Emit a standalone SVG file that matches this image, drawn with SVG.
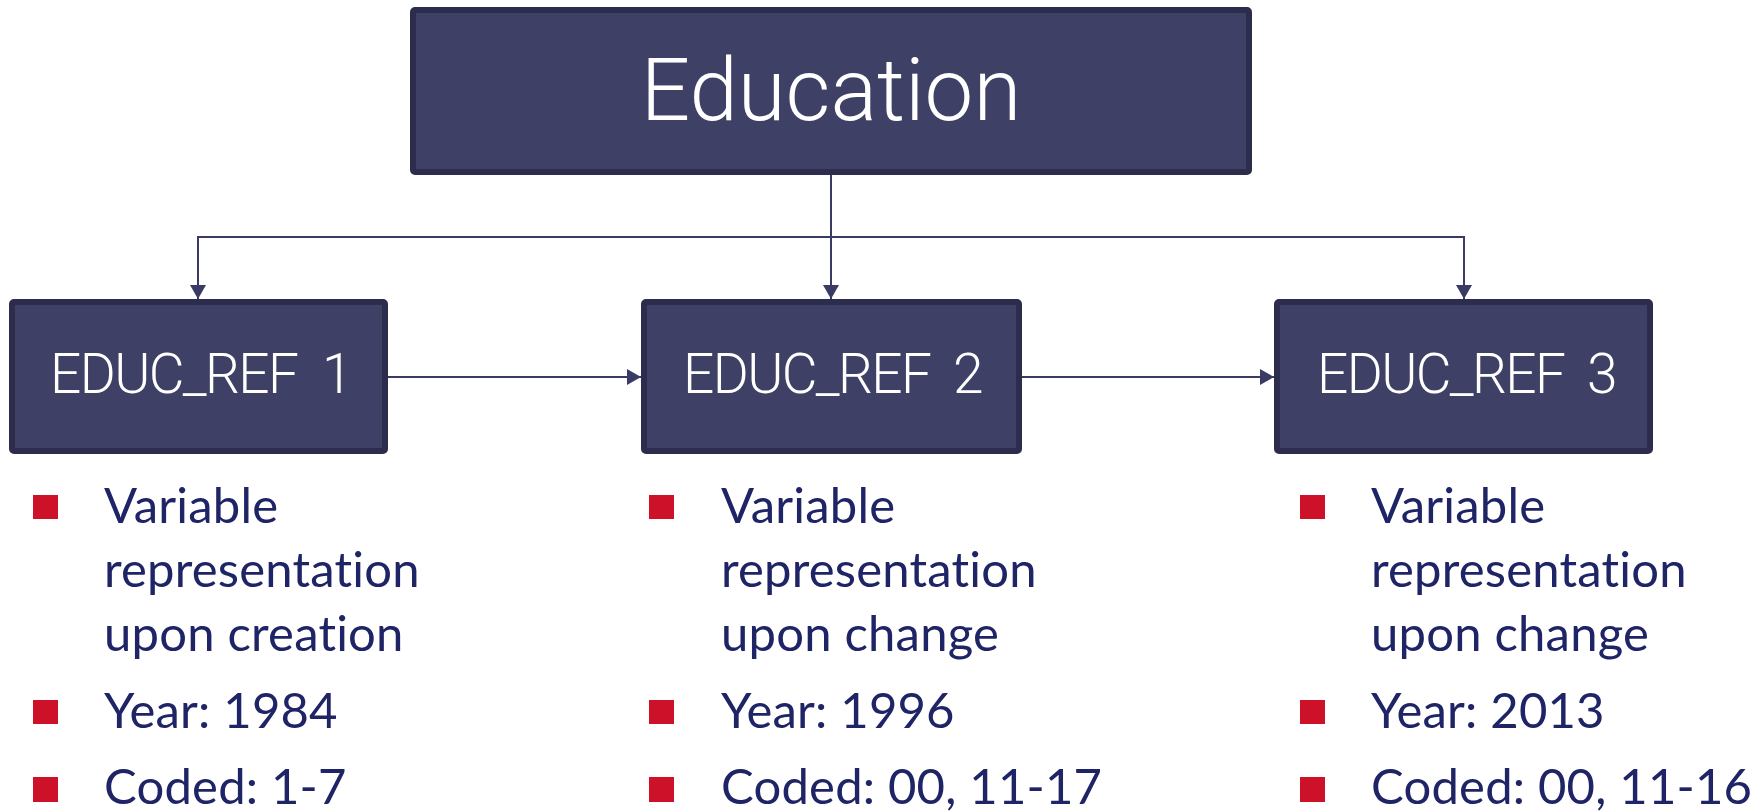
<svg xmlns="http://www.w3.org/2000/svg" width="1756" height="812" viewBox="0 0 1756 812">
  <style>
    .box { fill: #3F4066; stroke: #2C2C4C; stroke-width: 6; }
    .title { font-family: Roboto, "Liberation Sans", sans-serif; font-weight: 300; fill: #FFFFFF; }
    .ref { letter-spacing: -1.6px; }
    .conn { fill: none; stroke: #3A3B64; stroke-width: 2; }
    .bullet { fill: #CC1128; }
    .item { font-family: Lato, "Open Sans", sans-serif; font-size: 49px; fill: #1E2465; font-variant-ligatures: none; letter-spacing: 0.2px; }
  </style>
  <defs>
    <marker id="arrow" markerUnits="userSpaceOnUse" markerWidth="16" markerHeight="16" refX="14" refY="8" orient="auto">
      <path d="M0,0 L14,8 L0,16 Z" fill="#3A3B64"/>
    </marker>
  </defs>
  <rect width="1756" height="812" fill="#FFFFFF"/>

  <g id="connectors">
    <path class="conn" d="M831,175 V299" marker-end="url(#arrow)"/>
    <path class="conn" d="M831,237 H198 V299" marker-end="url(#arrow)"/>
    <path class="conn" d="M831,237 H1464 V299" marker-end="url(#arrow)"/>
    <path class="conn" d="M388,377 H641" marker-end="url(#arrow)"/>
    <path class="conn" d="M1022,377 H1274" marker-end="url(#arrow)"/>
  </g>

  <g id="education">
    <rect class="box" x="413" y="10" width="836" height="162" rx="2"/>
    <text class="title" x="831" y="120" font-size="87" text-anchor="middle">Education</text>
  </g>

  <g id="educ_ref1">
    <rect class="box" x="12" y="302" width="373" height="149" rx="2"/>
    <text class="title" x="50" y="393" font-size="55"><tspan class="ref">EDUC_REF</tspan> <tspan x="322">1</tspan></text>
  </g>
  <g id="educ_ref2">
    <rect class="box" x="644" y="302" width="375" height="149" rx="2"/>
    <text class="title" x="683" y="393" font-size="55"><tspan class="ref">EDUC_REF</tspan> <tspan x="953">2</tspan></text>
  </g>
  <g id="educ_ref3">
    <rect class="box" x="1277" y="302" width="373" height="149" rx="2"/>
    <text class="title" x="1317" y="393" font-size="55"><tspan class="ref">EDUC_REF</tspan> <tspan x="1587">3</tspan></text>
  </g>

  <g id="list1">
    <rect class="bullet" x="33" y="495" width="25" height="24"/>
    <rect class="bullet" x="33" y="700" width="25" height="24"/>
    <rect class="bullet" x="33" y="777" width="25" height="25"/>
    <text class="item" x="104" y="523">Variable</text>
    <text class="item" x="104" y="587">representation</text>
    <text class="item" x="104" y="651">upon creation</text>
    <text class="item" x="104" y="728">Year: 1984</text>
    <text class="item" x="104" y="804">Coded: 1-7</text>
  </g>
  <g id="list2">
    <rect class="bullet" x="649" y="495" width="25" height="24"/>
    <rect class="bullet" x="649" y="700" width="25" height="24"/>
    <rect class="bullet" x="649" y="777" width="25" height="25"/>
    <text class="item" x="721" y="523">Variable</text>
    <text class="item" x="721" y="587">representation</text>
    <text class="item" x="721" y="651">upon change</text>
    <text class="item" x="721" y="728">Year: 1996</text>
    <text class="item" x="721" y="804">Coded: 00, 11-17</text>
  </g>
  <g id="list3">
    <rect class="bullet" x="1300" y="495" width="25" height="24"/>
    <rect class="bullet" x="1300" y="700" width="25" height="24"/>
    <rect class="bullet" x="1300" y="777" width="25" height="25"/>
    <text class="item" x="1371" y="523">Variable</text>
    <text class="item" x="1371" y="587">representation</text>
    <text class="item" x="1371" y="651">upon change</text>
    <text class="item" x="1371" y="728">Year: 2013</text>
    <text class="item" x="1371" y="804">Coded: 00, 11-16</text>
  </g>
</svg>
